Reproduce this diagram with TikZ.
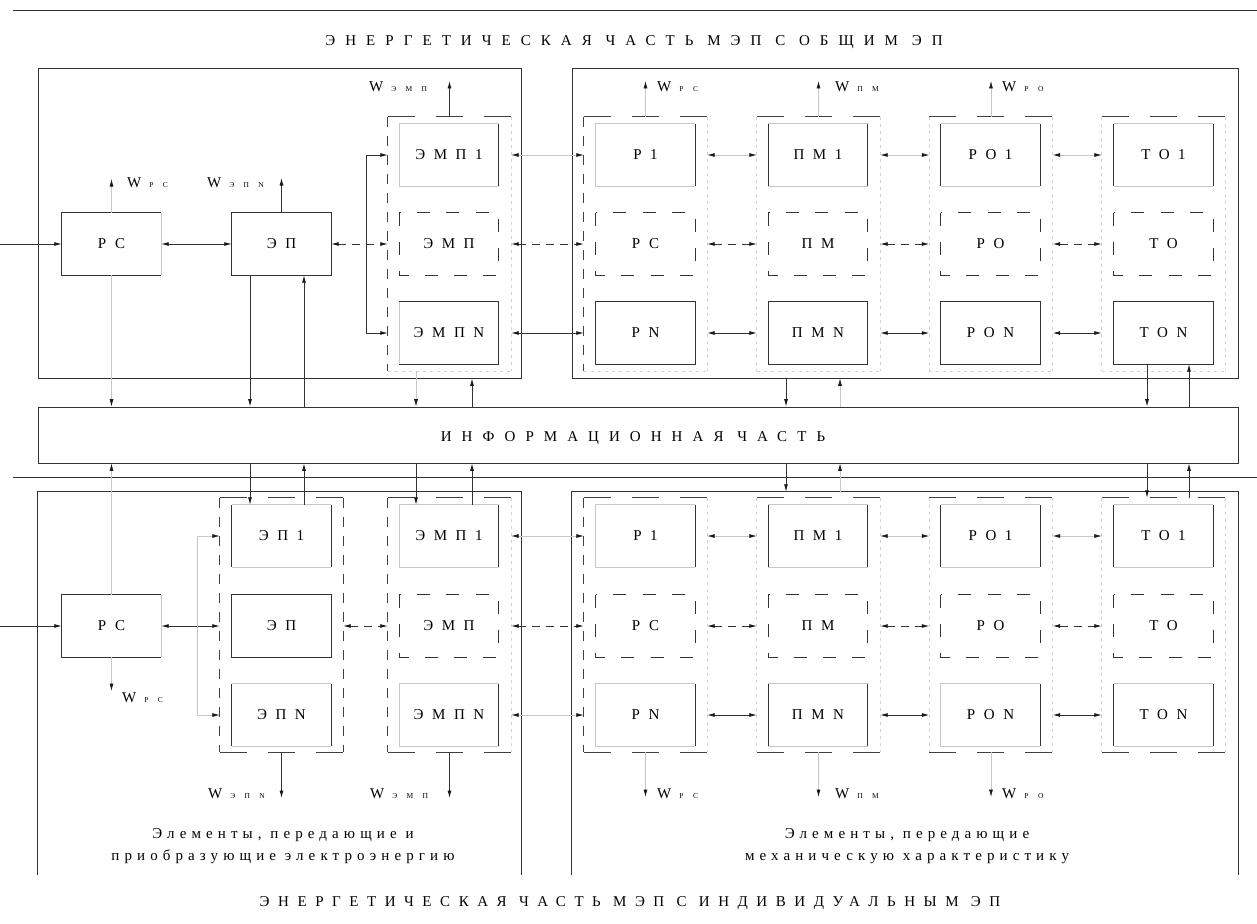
\documentclass[tikz,border=0pt]{standalone}
\usepackage{fontspec}
\setmainfont{Liberation Serif}
\newfontfamily\capf[LetterSpace=57]{Liberation Serif}
\newfontfamily\capw[LetterSpace=67]{Liberation Serif}
\newfontfamily\lowf[LetterSpace=34]{Liberation Serif}
\newfontfamily\subf[LetterSpace=125]{Liberation Serif}
\usetikzlibrary{arrows.meta}
\newcommand\Wsub[1]{{\fontsize{15}{17}\selectfont W}\hspace{8pt}{\fontsize{7.5}{8}\subf #1}}
\tikzset{
  >={Latex[length=7.5pt,width=4pt,color=black!90]},
  dk/.style={draw=black!80,line width=0.8pt},
  gh/.style={draw=black!22,line width=0.7pt},
  dsh/.style={draw=black!80,line width=0.8pt,dash pattern=on 8pt off 6pt},
  fv/.style={draw=black!75,line width=0.8pt,dash pattern=on 10pt off 9pt},
  fh/.style={draw=black!75,line width=0.8pt,dash pattern=on 27pt off 21pt},
  fg/.style={draw=black!18,line width=0.7pt,dash pattern=on 3pt off 4pt},
  bxd/.style={draw=black!80,line width=0.8pt,dash pattern=on 13pt off 16.3pt},
  bx/.style={minimum width=99pt,minimum height=62pt,inner sep=0pt,font=\fontsize{15}{17}\capf},
  frm/.style={minimum width=123pt,minimum height=254pt,inner sep=0pt},
  big/.style={inner sep=0pt},
  lbl/.style={inner sep=0pt,font=\fontsize{15}{17}\capf},
  lblw/.style={inner sep=0pt,font=\fontsize{15}{17}\capw},
  low/.style={inner sep=0pt,font=\fontsize{15}{17}\lowf},
  wl/.style={inner sep=0pt,anchor=base west},
}
\newcommand\bxLR[1]{\draw[gh] (#1.north west)--(#1.north east) (#1.south west)--(#1.south east);\draw[dk] (#1.north west)--(#1.south west) (#1.north east)--(#1.south east);}
\newcommand\bxRo[1]{\draw[gh] (#1.north east)--(#1.north west)--(#1.south west)--(#1.south east);\draw[dk] (#1.north east)--(#1.south east);}
\newcommand\bxOpenR[1]{\draw[dk] (#1.north east)--(#1.north west)--(#1.south west)--(#1.south east);\draw[gh] (#1.north east)--(#1.south east);}
\newcommand\bxOpenL[1]{\draw[dk] (#1.north west)--(#1.north east)--(#1.south east)--(#1.south west);\draw[gh] (#1.north west)--(#1.south west);}
\newcommand\bxFull[1]{\draw[dk] (#1.north west) rectangle (#1.south east);}
\newcommand\bxDash[1]{\draw[bxd] (#1.north west) rectangle (#1.south east);}
\newcommand\frA[1]{\draw[fh] (#1.north west)--(#1.north east);\draw[fv] (#1.north west)--(#1.south west);\draw[fg] (#1.north east)--(#1.south east) (#1.south west)--(#1.south east);}
\newcommand\frB[1]{\draw[fh] (#1.north west)--(#1.north east);\draw[fg] (#1.north west)--(#1.south west) (#1.north east)--(#1.south east) (#1.south west)--(#1.south east);}
\newcommand\frC[1]{\draw[fh] (#1.north west)--(#1.north east) (#1.south west)--(#1.south east);\draw[fv] (#1.north west)--(#1.south west) (#1.north east)--(#1.south east);}
\newcommand\frD[1]{\draw[fh] (#1.north west)--(#1.north east) (#1.south west)--(#1.south east);\draw[fv] (#1.north west)--(#1.south west);\draw[fg] (#1.north east)--(#1.south east);}
\newcommand\frE[1]{\draw[fh] (#1.north west)--(#1.north east) (#1.south west)--(#1.south east);\draw[fg] (#1.north west)--(#1.south west) (#1.north east)--(#1.south east);}
\begin{document}
\begin{tikzpicture}[x=1pt,y=-1pt]
\path[use as bounding box] (0,0) rectangle (1257,923);
% separators
\coordinate (s1a) at (13,10); \coordinate (s1b) at (1257,10);
\coordinate (s2a) at (13,477); \coordinate (s2b) at (1257,477);
\draw[dk] (s1a) -- (s1b);
\draw[dk] (s2a) -- (s2b);
% titles
\node[lblw,anchor=base] (title1) at (634,46) {ЭНЕРГЕТИЧЕСКАЯ ЧАСТЬ МЭП С ОБЩИМ ЭП};
\node[lbl,anchor=base] (title2) at (630,906) {ЭНЕРГЕТИЧЕСКАЯ ЧАСТЬ МЭП С ИНДИВИДУАЛЬНЫМ ЭП};
% big boxes
\node[big,dk,minimum width=483pt,minimum height=310pt] (bTL) at (279.5,223) {};
\node[big,dk,minimum width=666pt,minimum height=310pt] (bTR) at (905,223) {};
\node[big,dk,minimum width=1200pt,minimum height=56pt] (info) at (638,435) {};
\node[lblw,anchor=base] (infoT) at (633,441) {ИНФОРМАЦИОННАЯ ЧАСТЬ};
\node[big,minimum width=483pt,minimum height=383pt] (bBL) at (279.5,683.5) {};
\draw[dk] (bBL.south west) -- (bBL.north west) -- (bBL.north east) -- (bBL.south east);
\node[big,minimum width=666pt,minimum height=383pt] (bBR) at (905,683.5) {};
\draw[dk] (bBR.south west) -- (bBR.north west) -- (bBR.north east) -- (bBR.south east);
% captions
\node[low,anchor=base] (capL1) at (283,838) {Элементы, передающие и};
\node[low,anchor=base] (capL2) at (283,860) {приобразующие электроэнергию};
\node[low,anchor=base] (capR1) at (907,838) {Элементы, передающие};
\node[low,anchor=base] (capR2) at (907,860) {механическую характеристику};

% ===== top part =====
\node[frm] (fEMPt) at (449.5,244) {};
\node[frm] (fRt) at (645.5,244) {};
\node[frm] (fPMt) at (818.5,244) {};
\node[frm] (fROt) at (991,244) {};
\node[frm] (fTOt) at (1163.5,244) {};
\frA{fEMPt} \frA{fRt} \frB{fPMt} \frB{fROt} \frB{fTOt}

\node[bx] (rcT) at (111.5,244) {РС};
\node[bx] (epT) at (281.5,244) {ЭП};
\node[bx] (emp1T) at (449,155) {ЭМП1};
\node[bx] (empT) at (449,244) {ЭМП};
\node[bx] (empNT) at (449,333) {ЭМПN};
\node[bx] (r1T) at (645.5,155) {Р1};
\node[bx] (rT) at (645.5,244) {РС};
\node[bx] (rNT) at (645.5,333) {РN};
\node[bx] (pm1T) at (818,155) {ПМ1};
\node[bx] (pmT) at (818,244) {ПМ};
\node[bx] (pmNT) at (818,333) {ПМN};
\node[bx] (ro1T) at (990.5,155) {РО1};
\node[bx] (roT) at (990.5,244) {РО};
\node[bx] (roNT) at (990.5,333) {РОN};
\node[bx] (to1T) at (1163.5,155) {ТО1};
\node[bx] (toT) at (1163.5,244) {ТО};
\node[bx] (toNT) at (1163.5,333) {ТОN};
\bxOpenR{rcT} \bxFull{epT}
\bxRo{emp1T} \bxDash{empT} \bxOpenL{empNT}
\bxRo{r1T} \bxLR{pm1T} \bxLR{ro1T} \bxLR{to1T}
\bxDash{rT} \bxDash{pmT} \bxDash{roT} \bxDash{toT}
\bxFull{rNT} \bxFull{pmNT} \bxFull{roNT} \bxFull{toNT}

\coordinate (yT1) at (0,155); \coordinate (yT2) at (0,244); \coordinate (yT3) at (0,333);
\coordinate (inT) at (0,244);
\draw[dk,->] (inT) -- (rcT.west);
\draw[dk,<->] (rcT.east) -- (epT.west);
\draw[dsh,<->] (epT.east) -- (fEMPt.west |- yT2);
\coordinate (brT) at (366,0);
\draw[dk] (brT |- yT1) -- (brT |- yT3);
\draw[dk,->] (brT |- yT1) -- (fEMPt.west |- yT1);
\draw[dk,->] (brT |- yT3) -- (fEMPt.west |- yT3);
\draw[gh,<->] (fEMPt.east |- yT1) -- (fRt.west |- yT1);
\draw[dsh,<->] (fEMPt.east |- yT2) -- (fRt.west |- yT2);
\draw[dk,<->] (fEMPt.east |- yT3) -- (fRt.west |- yT3);
\foreach \a/\b in {fRt/fPMt,fPMt/fROt,fROt/fTOt}{
  \draw[gh,<->] (\a.east |- yT1) -- (\b.west |- yT1);
  \draw[dsh,<->] (\a.east |- yT2) -- (\b.west |- yT2);
  \draw[dk,<->] (\a.east |- yT3) -- (\b.west |- yT3);
}
% W outputs top
\coordinate (wRCt) at (111.5,179);
\draw[gh,->] (rcT.north) -- (wRCt);
\node[wl] (tWRCt) at (127,187) {\Wsub{РС}};
\coordinate (wEPt) at (281.5,178);
\draw[dk,->] (epT.north) -- (wEPt);
\node[wl] (tWEPt) at (207,187) {\Wsub{ЭПN}};
\coordinate (wEMPt) at (449.5,81);
\draw[dk,->] (fEMPt.north) -- (wEMPt);
\node[wl] (tWEMPt) at (369,92) {\Wsub{ЭМП}};
\coordinate (wRt) at (645.5,81);
\draw[gh,->] (fRt.north) -- (wRt);
\node[wl] (tWRt) at (657,92) {\Wsub{РС}};
\coordinate (wPMt) at (818.5,81);
\draw[gh,->] (fPMt.north) -- (wPMt);
\node[wl] (tWPMt) at (835,92) {\Wsub{ПМ}};
\coordinate (wROt) at (991,81);
\draw[gh,->] (fROt.north) -- (wROt);
\node[wl] (tWROt) at (1002,92) {\Wsub{РО}};
% info links top
\coordinate (xa) at (111.5,0); \coordinate (xb) at (250,0); \coordinate (xc) at (304,0);
\coordinate (xd) at (416,0); \coordinate (xe) at (472,0); \coordinate (xf) at (786,0);
\coordinate (xg) at (840,0); \coordinate (xh) at (1147,0); \coordinate (xi) at (1189,0);
\draw[gh,->] (rcT.south) -- (info.north -| xa);
\draw[dk,->] (epT.south -| xb) -- (info.north -| xb);
\draw[dk,->] (info.north -| xc) -- (epT.south -| xc);
\draw[gh,->] (fEMPt.south -| xd) -- (info.north -| xd);
\draw[dk,->] (info.north -| xe) -- (bTL.south -| xe);
\draw[dk,->] (bTR.south -| xf) -- (info.north -| xf);
\draw[gh,->] (info.north -| xg) -- (bTR.south -| xg);
\draw[dk,->] (toNT.south -| xh) -- (info.north -| xh);
\draw[dk,->] (info.north -| xi) -- (toNT.south -| xi);

% ===== bottom part =====
\node[frm] (fEPb) at (281.5,625) {};
\node[frm] (fEMPb) at (449.5,625) {};
\node[frm] (fRb) at (645.5,625) {};
\node[frm] (fPMb) at (818.5,625) {};
\node[frm] (fROb) at (991,625) {};
\node[frm] (fTOb) at (1163.5,625) {};
\frC{fEPb} \frD{fEMPb} \frD{fRb} \frE{fPMb} \frE{fROb} \frE{fTOb}

\node[bx] (rcB) at (111.5,626) {РС};
\node[bx] (ep1B) at (281.5,536) {ЭП1};
\node[bx] (epB) at (281.5,626) {ЭП};
\node[bx] (epNB) at (281.5,715) {ЭПN};
\node[bx] (emp1B) at (449,536) {ЭМП1};
\node[bx] (empB) at (449,626) {ЭМП};
\node[bx] (empNB) at (449,715) {ЭМПN};
\node[bx] (r1B) at (645.5,536) {Р1};
\node[bx] (rB) at (645.5,626) {РС};
\node[bx] (rNB) at (645.5,715) {РN};
\node[bx] (pm1B) at (818,536) {ПМ1};
\node[bx] (pmB) at (818,626) {ПМ};
\node[bx] (pmNB) at (818,715) {ПМN};
\node[bx] (ro1B) at (990.5,536) {РО1};
\node[bx] (roB) at (990.5,626) {РО};
\node[bx] (roNB) at (990.5,715) {РОN};
\node[bx] (to1B) at (1163.5,536) {ТО1};
\node[bx] (toB) at (1163.5,626) {ТО};
\node[bx] (toNB) at (1163.5,715) {ТОN};
\bxOpenR{rcB}
\bxLR{ep1B} \bxFull{epB} \bxLR{epNB}
\bxRo{emp1B} \bxDash{empB} \bxRo{empNB}
\bxRo{r1B} \bxLR{pm1B} \bxLR{ro1B} \bxLR{to1B}
\bxDash{rB} \bxDash{pmB} \bxDash{roB} \bxDash{toB}
\bxRo{rNB} \bxLR{pmNB} \bxRo{roNB} \bxLR{toNB}

\coordinate (yB1) at (0,536); \coordinate (yB2) at (0,626); \coordinate (yB3) at (0,715);
\coordinate (inB) at (0,626);
\draw[dk,->] (inB) -- (rcB.west);
\draw[dk,<->] (rcB.east) -- (fEPb.west |- yB2);
\draw[dsh,<->] (fEPb.east |- yB2) -- (fEMPb.west |- yB2);
\coordinate (brB) at (197,0);
\draw[gh] (brB |- yB1) -- (brB |- yB3);
\draw[gh,->] (brB |- yB1) -- (fEPb.west |- yB1);
\draw[gh,->] (brB |- yB3) -- (fEPb.west |- yB3);
\draw[gh,<->] (fEMPb.east |- yB1) -- (fRb.west |- yB1);
\draw[dsh,<->] (fEMPb.east |- yB2) -- (fRb.west |- yB2);
\draw[gh,<->] (fEMPb.east |- yB3) -- (fRb.west |- yB3);
\foreach \a/\b in {fRb/fPMb,fPMb/fROb,fROb/fTOb}{
  \draw[gh,<->] (\a.east |- yB1) -- (\b.west |- yB1);
  \draw[dsh,<->] (\a.east |- yB2) -- (\b.west |- yB2);
  \draw[dk,<->] (\a.east |- yB3) -- (\b.west |- yB3);
}
% W outputs bottom
\coordinate (wRCb) at (111.5,691);
\draw[gh,->] (rcB.south) -- (wRCb);
\node[wl] (tWRCb) at (122,702) {\Wsub{РС}};
\coordinate (wEPb) at (281.5,798);
\draw[dk,->] (fEPb.south) -- (wEPb);
\node[wl] (tWEPb) at (208,798) {\Wsub{ЭПN}};
\coordinate (wEMPb) at (449.5,798);
\draw[dk,->] (fEMPb.south) -- (wEMPb);
\node[wl] (tWEMPb) at (370,798) {\Wsub{ЭМП}};
\coordinate (wRb) at (645.5,797);
\draw[gh,->] (fRb.south) -- (wRb);
\node[wl] (tWRb) at (657,798) {\Wsub{РС}};
\coordinate (wPMb) at (818.5,797);
\draw[gh,->] (fPMb.south) -- (wPMb);
\node[wl] (tWPMb) at (835,798) {\Wsub{ПМ}};
\coordinate (wROb) at (991,797);
\draw[gh,->] (fROb.south) -- (wROb);
\node[wl] (tWROb) at (1002,798) {\Wsub{РО}};
% info links bottom
\draw[gh,->] (rcB.north) -- (info.south -| xa);
\draw[dk,->] (info.south -| xb) -- (ep1B.north -| xb);
\draw[dk,->] (ep1B.north -| xc) -- (info.south -| xc);
\draw[dk,->] (info.south -| xd) -- (emp1B.north -| xd);
\draw[dk,->] (emp1B.north -| xe) -- (info.south -| xe);
\draw[dk,->] (info.south -| xf) -- (bBR.north -| xf);
\draw[gh,->] (bBR.north -| xg) -- (info.south -| xg);
\draw[dk,->] (info.south -| xh) -- (fTOb.north -| xh);
\draw[dk,->] (fTOb.north -| xi) -- (info.south -| xi);
\end{tikzpicture}
\end{document}
